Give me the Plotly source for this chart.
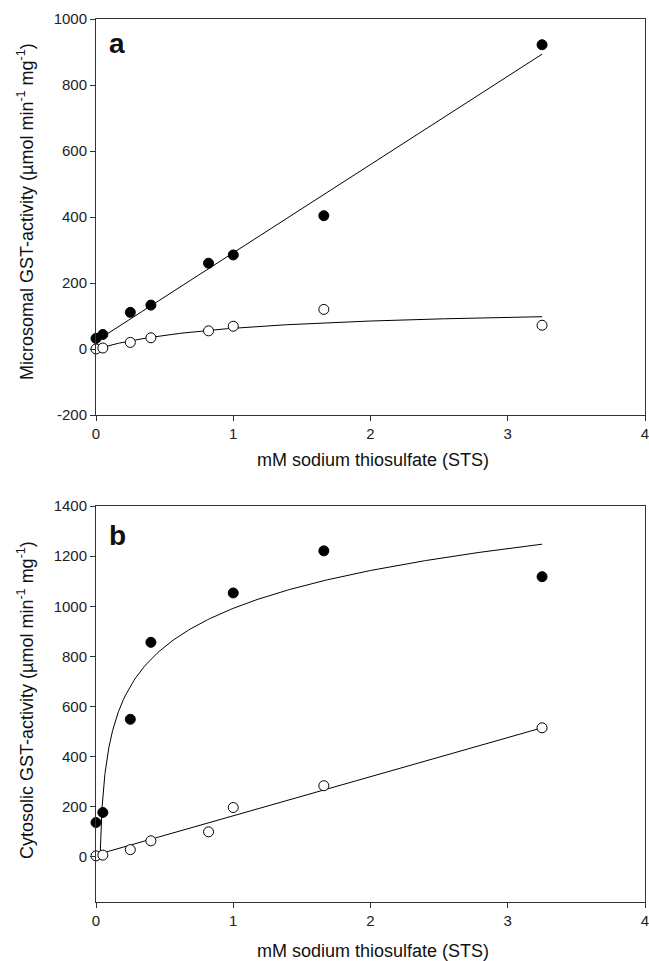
import numpy as np
import plotly.graph_objects as go

# ---- data ----
sts_mM = [0, 0.05, 0.25, 0.4, 0.82, 1.0, 1.66, 3.25]

micro_filled = [32, 44, 111, 133, 260, 285, 404, 922]
micro_open = [0, 3, 20, 34, 55, 69, 120, 72]

cyto_filled_x = [0, 0.05, 0.25, 0.4, 1.0, 1.66, 3.25]
cyto_filled = [137, 177, 549, 856, 1053, 1221, 1118]
cyto_open = [4, 7, 29, 64, 100, 197, 284, 515]

x_ticks = [0, 1, 2, 3, 4]
ya_ticks = [-200, 0, 200, 400, 600, 800, 1000]
yb_ticks = [0, 200, 400, 600, 800, 1000, 1200, 1400]

# fitted-curve parameters
lin_a = (24.0, 267.5)        # intercept, slope
mm_a = (130.0, 1.066)        # Vmax, Km
log_b = (996.0, 214.6, 0.02) # a + b*ln(x - c)
lin_b = (8.0, 156.0)

xs = np.linspace(0, 3.25, 300)
x_log = np.concatenate([np.linspace(0.0297, 0.2, 200), np.linspace(0.2, 3.25, 200)])

FONT = "Arial, Liberation Sans, sans-serif"
fig = go.Figure()

line_style = dict(color="black", width=1)

# panel a
fig.add_trace(go.Scatter(x=xs, y=lin_a[0] + lin_a[1] * xs, mode="lines", line=line_style,
                         xaxis="x", yaxis="y", hoverinfo="skip"))
fig.add_trace(go.Scatter(x=xs, y=mm_a[0] * xs / (mm_a[1] + xs), mode="lines", line=line_style,
                         xaxis="x", yaxis="y", hoverinfo="skip"))
fig.add_trace(go.Scatter(x=sts_mM, y=micro_filled, mode="markers", cliponaxis=False,
                         marker=dict(size=10, color="black", line=dict(color="black", width=1)),
                         xaxis="x", yaxis="y"))
fig.add_trace(go.Scatter(x=sts_mM, y=micro_open, mode="markers", cliponaxis=False,
                         marker=dict(size=10, color="white", line=dict(color="black", width=1)),
                         xaxis="x", yaxis="y"))

# panel b
fig.add_trace(go.Scatter(x=x_log, y=log_b[0] + log_b[1] * np.log(x_log - log_b[2]), mode="lines",
                         line=line_style, xaxis="x2", yaxis="y2", hoverinfo="skip"))
fig.add_trace(go.Scatter(x=xs, y=lin_b[0] + lin_b[1] * xs, mode="lines", line=line_style,
                         xaxis="x2", yaxis="y2", hoverinfo="skip"))
fig.add_trace(go.Scatter(x=cyto_filled_x, y=cyto_filled, mode="markers", cliponaxis=False,
                         marker=dict(size=10, color="black", line=dict(color="black", width=1)),
                         xaxis="x2", yaxis="y2"))
fig.add_trace(go.Scatter(x=sts_mM, y=cyto_open, mode="markers", cliponaxis=False,
                         marker=dict(size=10, color="white", line=dict(color="black", width=1)),
                         xaxis="x2", yaxis="y2"))

H_PLOT = 961 - 19 - 59
dom_b = [0, 396 / H_PLOT]
dom_a = [1 - 396 / H_PLOT, 1]

ax_common = dict(showline=True, linecolor="#333", linewidth=1, mirror=True, ticks="outside",
                 ticklen=5, tickcolor="#333", showgrid=False, zeroline=False, automargin=False,
                 ticklabeloverflow="allow",
                 tickfont=dict(family=FONT, size=15, color="#222"))

fig.update_layout(
    width=649, height=961,
    margin=dict(l=96, r=4, t=19, b=59),
    paper_bgcolor="white", plot_bgcolor="white",
    showlegend=False,
    font=dict(family=FONT, color="#222"),
    xaxis=dict(range=[0, 4], tickvals=x_ticks, ticktext=[str(v) for v in x_ticks],
               domain=[0, 1], anchor="y", **ax_common),
    yaxis=dict(range=[-200, 1000], tickvals=ya_ticks, ticktext=[str(v) for v in ya_ticks],
               domain=dom_a, anchor="x", **ax_common),
    xaxis2=dict(range=[0, 4], tickvals=x_ticks, ticktext=[str(v) for v in x_ticks],
                domain=[0, 1], anchor="y2", **ax_common),
    yaxis2=dict(range=[-180, 1400], tickvals=yb_ticks, ticktext=[str(v) for v in yb_ticks],
                domain=dom_b, anchor="x2", **ax_common),
)

def ann(text, x, y, size, rot=0, bold=False):
    fig.add_annotation(text=f"<b>{text}</b>" if bold else text, x=x, y=y, xref="paper", yref="paper",
                       showarrow=False, textangle=rot,
                       font=dict(family=FONT, size=size, color="#111"),
                       xanchor="center", yanchor="middle")

def px_x(p):
    return (p - 96) / (649 - 96 - 4)

def px_y(p):
    return (961 - 59 - p) / H_PLOT

ann("mM sodium thiosulfate (STS)", px_x(373), px_y(460), 18)
ann("mM sodium thiosulfate (STS)", px_x(373), px_y(951), 18)
ann("Microsomal GST-activity (µmol min<sup>-1</sup> mg<sup>-1</sup>)", px_x(25), px_y(212), 18, rot=-90)
ann("Cytosolic GST-activity (µmol min<sup>-1</sup> mg<sup>-1</sup>)", px_x(25), px_y(700), 18, rot=-90)
ann("a", px_x(117), px_y(44), 28, bold=True)
ann("b", px_x(117), px_y(536), 28, bold=True)

fig.write_html("out.html", config={"displayModeBar": False},
               post_script="document.body.style.margin='0px';document.body.style.overflow='hidden';")
